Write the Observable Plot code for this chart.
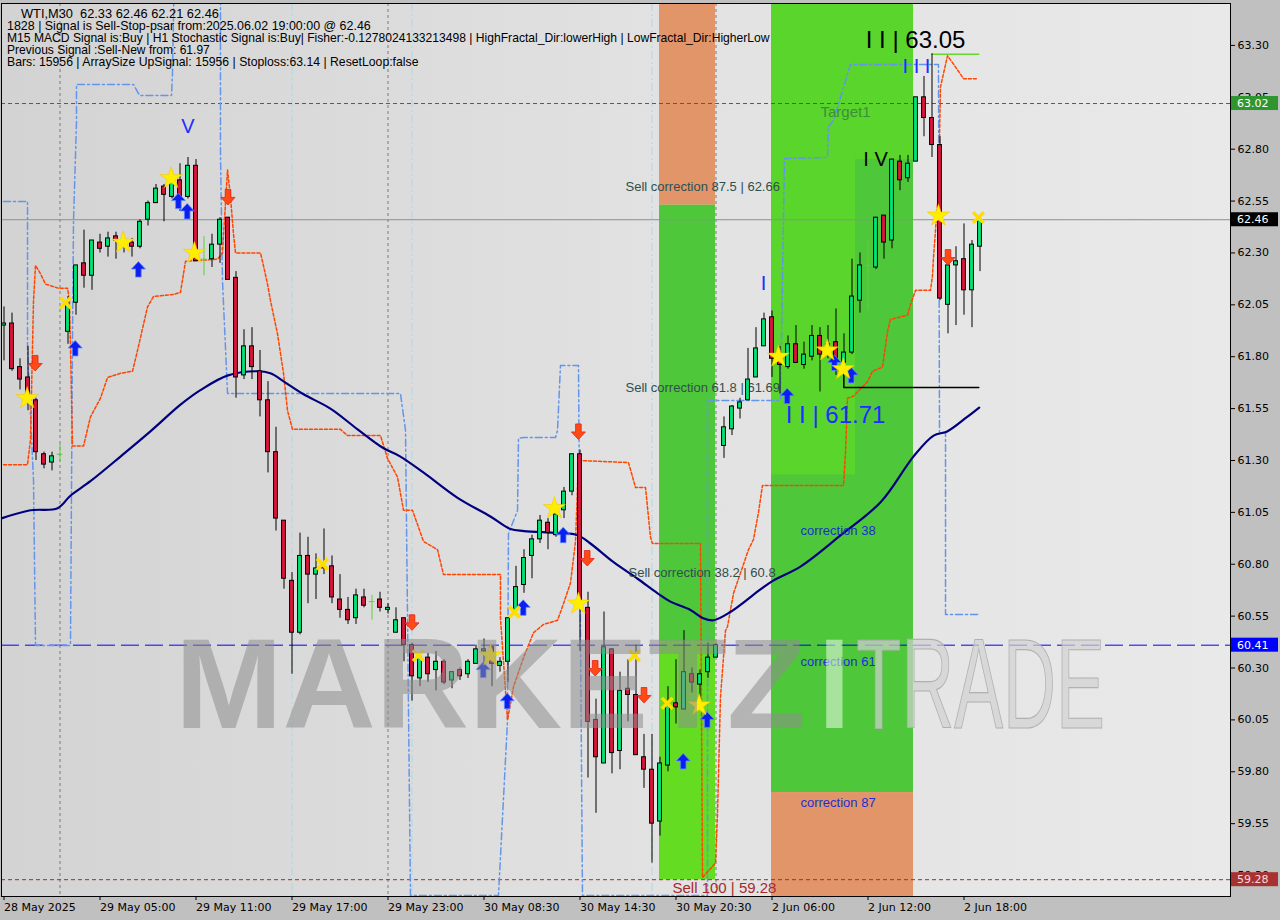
<!DOCTYPE html>
<html><head><meta charset="utf-8">
<script src="https://cdn.jsdelivr.net/npm/d3@7"></script>
<script src="https://cdn.jsdelivr.net/npm/@observablehq/plot@0.6"></script>
<style>
html,body{margin:0;padding:0;background:#c0c0c0;}
#chart svg{display:block;}
</style></head><body><div id="chart"></div>
<script>
// ---------- DATA ----------
const opens  = [61.95,61.96,61.75,61.70,61.59,61.33,61.29,61.33,61.92,62.06,62.25,62.19,62.35,62.33,62.38,62.35,62.35,62.33,62.46,62.54,62.62,62.57,62.65,62.57,62.72,62.27,62.27,62.34,62.47,62.18,61.71,61.85,61.73,61.59,61.34,61.01,60.72,60.47,60.84,60.75,60.79,60.79,60.63,60.58,60.54,60.64,60.62,60.63,60.58,60.47,60.54,60.41,60.25,60.35,60.29,60.33,60.24,60.29,60.27,60.32,60.38,60.40,60.31,60.33,60.58,60.70,60.84,60.92,61.00,60.94,61.06,61.15,61.33,60.59,60.05,59.84,60.39,59.90,60.20,60.17,59.87,59.81,59.56,59.83,60.13,60.10,60.27,60.22,60.28,60.35,61.37,61.45,61.55,61.59,61.70,61.85,61.99,61.80,61.75,61.86,61.76,61.80,61.90,61.86,61.87,61.77,61.82,62.07,62.24,62.23,62.48,62.36,62.74,62.66,62.74,63.05,62.95,62.82,62.05,62.24,62.27,62.12,62.33];
const highs  = [62.04,62.01,61.79,61.85,61.60,61.34,61.34,61.38,62.09,62.24,62.41,62.36,62.39,62.40,62.40,62.38,62.37,62.46,62.55,62.63,62.63,62.66,62.73,62.76,62.75,62.38,62.39,62.47,62.47,62.21,61.93,61.94,61.83,61.68,61.46,61.01,60.76,60.95,60.93,60.85,60.97,60.84,60.75,60.64,60.68,60.68,60.65,60.665,60.61,60.59,60.54,60.42,60.37,60.37,60.38,60.34,60.28,60.30,60.34,60.41,60.44,60.40,60.35,60.54,60.79,60.87,60.94,61.035,61.02,61.06,61.17,61.33,61.35,60.665,60.15,60.57,60.39,60.28,60.34,60.41,59.98,59.98,59.87,60.21,60.34,60.48,60.30,60.29,60.42,60.42,61.51,61.565,61.60,61.84,61.94,62.01,62.02,61.85,61.90,61.95,61.87,61.95,61.94,61.95,62.03,61.91,62.27,62.30,62.36,62.47,62.48,62.75,62.77,62.77,63.05,63.15,63.26,62.86,62.25,62.33,62.44,62.36,62.46];
const lows   = [61.78,61.73,61.64,61.54,61.30,61.26,61.25,61.29,61.86,62.00,62.13,62.12,62.30,62.28,62.27,62.30,62.28,62.32,62.43,62.54,62.45,62.56,62.50,62.56,62.26,62.19,62.23,62.25,62.17,61.60,61.69,61.69,61.51,61.24,60.96,60.68,60.27,60.46,60.61,60.63,60.75,60.61,60.54,60.51,60.51,60.59,60.53,60.57,60.56,60.47,60.33,60.14,60.21,60.23,60.19,60.22,60.20,60.24,60.25,60.32,60.32,60.21,60.28,60.23,60.57,60.66,60.73,60.90,60.87,60.93,61.02,61.13,60.38,59.77,59.60,59.84,59.79,59.81,60.04,59.88,59.72,59.36,59.49,59.80,60.03,60.10,60.18,60.14,60.25,60.35,61.31,61.42,61.50,61.59,61.70,61.85,61.70,61.62,61.74,61.77,61.74,61.78,61.63,61.79,61.71,61.71,61.81,62.01,62.02,62.22,62.27,62.32,62.60,62.64,62.74,62.86,62.76,62.07,61.91,61.95,62.00,61.94,62.21];
const closes = [61.96,61.74,61.69,61.62,61.34,61.28,61.32,61.33,62.05,62.24,62.19,62.36,62.32,62.37,62.36,62.33,62.33,62.45,62.54,62.61,62.58,62.64,62.57,62.72,62.26,62.27,62.34,62.46,62.17,61.70,61.85,61.75,61.59,61.34,61.02,60.73,60.47,60.84,60.75,60.78,60.78,60.64,60.58,60.53,60.65,60.60,60.62,60.59,60.59,60.53,60.41,60.26,60.35,60.27,60.33,60.23,60.28,60.26,60.33,60.39,60.39,60.32,60.33,60.54,60.69,60.83,60.92,61.01,60.95,61.04,61.15,61.33,60.61,60.04,59.87,60.40,59.89,60.19,60.17,59.88,59.81,59.55,59.84,60.12,60.11,60.28,60.23,60.27,60.35,60.41,61.46,61.56,61.58,61.69,61.84,61.98,61.79,61.76,61.86,61.77,61.81,61.90,61.81,61.84,61.79,61.82,62.09,62.24,62.24,62.47,62.35,62.75,62.65,62.73,63.05,62.95,62.82,62.08,62.24,62.26,62.12,62.34,62.46];

const timeTickBars = [0,12,24,36,48,60,72,84,96,108,120];
const timeLabels = ["28 May 2025","29 May 05:00","29 May 11:00","29 May 17:00","29 May 23:00","30 May 08:30","30 May 14:30","30 May 20:30","2 Jun 06:00","2 Jun 12:00","2 Jun 18:00"];
const priceTicks = [63.30,63.05,62.80,62.55,62.30,62.05,61.80,61.55,61.30,61.05,60.80,60.55,60.30,60.05,59.80,59.55,59.30];

// moving average (bar, price)
const maLine = [[-0.4,61.02],[3.3,61.06],[6.7,61.07],[8.3,61.13],[10.8,61.20],[14.6,61.32],[18.3,61.44],[22.1,61.57],[24.6,61.64],[28,61.71],[31.7,61.73],[33.3,61.72],[35,61.68],[37.4,61.62],[40.8,61.55],[44.2,61.45],[47.4,61.36],[49.5,61.32],[52.5,61.24],[56.7,61.12],[60.8,61.03],[63.3,60.97],[65,60.96],[69.2,60.95],[71.7,60.94],[73.3,60.90],[76.2,60.81],[79.2,60.73],[81.7,60.66],[83.3,60.62],[85.8,60.58],[87.4,60.54],[88.7,60.53],[90.8,60.57],[94.6,60.68],[96.1,60.72],[99.6,60.79],[104.6,60.94],[109.6,61.10],[113.7,61.32],[116.2,61.42],[117.9,61.44],[120.4,61.51],[121.9,61.555]];

// trailing stop (orange dashed)
const trailLine = [[-0.06,61.28],[2.94,61.28],[3.31,61.40],[3.69,62.07],[3.94,62.24],[4.56,62.20],[5.19,62.15],[6.81,62.13],[7.94,62.13],[8.19,62.07],[8.56,61.37],[9.94,61.37],[10.81,61.51],[12.06,61.60],[12.94,61.70],[14.56,61.72],[16.06,61.73],[16.69,61.83],[17.94,62.04],[18.69,62.09],[21.19,62.10],[22.06,62.11],[22.69,62.26],[26.69,62.27],[27.31,62.30],[27.94,62.70],[28.31,62.57],[28.69,62.39],[28.94,62.30],[32.06,62.30],[32.31,62.26],[32.94,62.15],[33.31,62.07],[34.19,61.91],[34.94,61.72],[35.44,61.54],[36.06,61.45],[42.06,61.45],[42.94,61.42],[47.06,61.42],[47.94,61.31],[49.19,61.22],[49.94,61.06],[51.06,61.06],[52.44,60.91],[54.19,60.87],[54.94,60.75],[62.06,60.75],[62.06,60.54],[62.94,60.05],[63.69,60.21],[64.94,60.35],[66.19,60.47],[67.44,60.51],[69.19,60.53],[69.94,60.61],[70.81,60.71],[71.19,60.83],[71.44,60.91],[71.81,61.30],[78.06,61.29],[78.94,61.17],[80.19,61.17],[80.81,60.93],[81.06,60.90],[87.06,60.90],[87.31,59.29],[88.94,59.36],[89.19,59.60],[89.56,60.16],[90.19,60.48],[90.44,60.50],[91.19,60.66],[93.06,60.87],[93.69,60.92],[94.31,61.05],[94.81,61.18],[104.94,61.18],[105.19,61.34],[105.44,61.60],[106.19,61.61],[107.94,61.68],[108.56,61.73],[109.81,61.75],[110.44,61.92],[110.81,61.98],[112.94,62.00],[113.31,62.05],[113.94,62.12],[115.81,62.12],[116.06,62.19],[116.19,62.28],[116.81,62.60],[117.06,63.10],[117.94,63.25],[118.69,63.21],[119.94,63.14],[121.69,63.14]];

// fractal channel (blue dash-dot)
const fractalLine = [[-0.06,62.548],[2.94,62.548],[2.94,61.83],[3.69,61.204],[3.94,60.409],[8.31,60.409],[8.56,61.878],[8.69,62.457],[9.06,62.929],[9.06,63.112],[16.19,63.112],[16.94,63.059],[20.94,63.059],[21.06,63.165],[21.31,63.7],[27.06,63.7],[27.06,62.78],[27.31,62.167],[27.94,61.623],[49.56,61.623],[50.19,61.445],[50.81,59.204],[61.81,59.204],[62.94,60.047],[63.06,60.948],[64.19,61.059],[64.31,61.406],[64.94,61.411],[68.94,61.411],[69.19,61.445],[69.56,61.758],[71.81,61.758],[72.31,59.204],[87.94,59.204],[87.94,61.589],[97.06,61.589],[97.56,62.755],[102.94,62.76],[103.06,62.91],[103.69,62.939],[105.81,63.208],[116.81,63.208],[116.94,61.435],[117.69,61.435],[117.69,60.558],[121.81,60.558]];

const levelLine = [[104.98,61.75],[104.98,61.652],[121.85,61.652]];
const stopLine = [[116.0,63.258],[121.85,63.258]];

const sepGray = [7, 48, 89];
const sepCyan = [36, 51, 81];

const zones = [
  {b1:81.94, b2:88.94, p1:62.53, p2:63.7, kind:"sell"},
  {b1:81.94, b2:88.94, p1:59.28, p2:62.53, kind:"buy"},
  {b1:81.94, b2:88.94, p1:59.28, p2:60.43, kind:"buyHi"},
  {b1:95.94, b2:113.69, p1:59.70, p2:63.7, kind:"buy"},
  {b1:95.94, b2:106.44, p1:61.23, p2:63.7, kind:"buyLt"},
  {b1:106.44, b2:113.69, p1:62.75, p2:63.7, kind:"buyLt"},
  {b1:95.94, b2:113.69, p1:59.0, p2:59.70, kind:"sell"}
];

const starPts  = [[2.9,61.60],[14.9,62.35],[20.9,62.66],[23.8,62.30],[60.8,60.36],[68.8,61.07],[71.8,60.61],[86.9,60.12],[96.8,61.80],[102.9,61.83],[104.9,61.74],[116.8,62.48]];
const crossPts = [[7.7,62.06],[39.8,60.80],[51.8,60.36],[63.8,60.57],[78.8,60.36],[82.9,60.13],[121.8,62.47]];
const upPts    = [[8.9,61.84],[16.8,62.22],[21.8,62.55],[22.9,62.50],[59.9,60.29],[62.9,60.14],[64.9,60.59],[69.9,60.94],[84.9,59.85],[87.9,60.05],[97.9,61.61],[103.8,61.77],[105.9,61.71]];
const downPts  = [[3.9,61.77],[28.0,62.57],[51.0,60.52],[71.8,61.44],[72.9,60.83],[73.9,60.30],[80.0,60.17],[118.0,62.28]];

const waveBlue  = [{t:"V", b:23.0, p:62.91}, {t:"I", b:94.94, p:62.153}, {t:"I I I", b:114.06, p:63.199}];
const waveBlack = [{t:"I V", b:108.94, p:62.751}];
const bigBlue   = [{t:"I I | 61.71", b:103.94, p:61.517}];
const bigBlack  = [{t:"I I | 63.05", b:113.94, p:63.324}];
const sellCorr  = [{t:"Sell correction 87.5 | 62.66", b:77.69, p:62.62},{t:"Sell correction 61.8 | 61.69", b:77.69, p:61.652},{t:"Sell correction 38.2 | 60.8", b:78.06, p:60.76}];
const buyCorr   = [{t:"correction 38", b:99.56, p:60.963},{t:"correction 61", b:99.56, p:60.331},{t:"correction 87", b:99.56, p:59.652}];
const sellTarget = [{t:"Sell 100 | 59.28", b:83.56, p:59.237}];
const targetLbl = [{t:"Target1", b:102.06, p:62.977}];

const currentPrice = 62.46, buyLevel = 60.41, target1 = 63.02, sell100 = 59.28;
const priceBoxes = [{v:63.02, kind:"target"},{v:62.46, kind:"price"},{v:60.41, kind:"buy"},{v:59.28, kind:"sell"}];

const watermark = [{t:"MARKETZ", b1:21.44, b2:100.3, p:60.01, kind:"dark"},{t:"I", b1:101.9, b2:105.8, p:60.01, kind:"white"},{t:"TRADE", b1:106.6, b2:137.7, p:60.01, kind:"light"}];

const infoLines = [
  "WTI,M30  62.33 62.46 62.21 62.46",
  "1828 | Signal is Sell-Stop-psar from:2025.06.02 19:00:00 @ 62.46",
  "M15 MACD Signal is:Buy | H1 Stochastic Signal is:Buy| Fisher:-0.1278024133213498 | HighFractal_Dir:lowerHigh | LowFractal_Dir:HigherLow",
  "Previous Signal :Sell-New from: 61.97",
  "Bars: 15956 | ArraySize UpSignal: 15956 | Stoploss:63.14 | ResetLoop:false"
];

// ---------- STYLE ----------
const zoneFill = {sell:"#e3956a", buy:"#4fc73b", buyHi:"#63dc22", buyLt:"#5ad52b"};
const boxFill = {target:"#2f962f", price:"#000000", buy:"#0000ff", sell:"#a83232"};

const candles = opens.map((o,i)=>({i, o, h:highs[i], l:lows[i], c:closes[i]}));
const bodies = candles.filter(d => d.o !== d.c);
const dojis = candles.filter(d => d.o === d.c);

const upArrow = {draw(ctx){ctx.moveTo(0,-8);ctx.lineTo(7,-0.5);ctx.lineTo(2.8,-0.5);ctx.lineTo(2.8,7.5);ctx.lineTo(-2.8,7.5);ctx.lineTo(-2.8,-0.5);ctx.lineTo(-7,-0.5);ctx.closePath();}};
const downArrow = {draw(ctx){ctx.moveTo(0,8);ctx.lineTo(7,0.5);ctx.lineTo(2.8,0.5);ctx.lineTo(2.8,-7.5);ctx.lineTo(-2.8,-7.5);ctx.lineTo(-2.8,0.5);ctx.lineTo(-7,0.5);ctx.closePath();}};

const X = d => d[0], Y = d => d[1];
const SANS = "Liberation Sans, Arial, sans-serif";

const chart = Plot.plot({
  width: 1280, height: 920,
  marginLeft: 1, marginRight: 50, marginTop: 3, marginBottom: 24,
  x: {domain: [-0.3125, 153.3125], axis: null},
  y: {domain: [59.199, 63.502], axis: null},
  style: {background: "#c0c0c0", fontFamily: "DejaVu Sans, sans-serif", fontSize: "11px", color: "#000"},
  marks: [
    Plot.frame({fill: "url(#bgGrad)"}),
    Plot.ruleX(sepGray, {stroke: "#7a7a7a", strokeDasharray: "3,3"}),
    Plot.ruleX(sepCyan, {stroke: "#a9d8e6", strokeDasharray: "8,3,2,3"}),
    Plot.rect(zones, {x1: "b1", x2: "b2", y1: "p1", y2: "p2", fill: d => zoneFill[d.kind], clip: true, ariaLabel: "zones"}),
    Plot.ruleY([currentPrice], {stroke: "#8a8f96"}),
    Plot.ruleY([buyLevel], {stroke: "#0000ff", strokeDasharray: "18,6"}),
    Plot.ruleY([target1], {stroke: "#2a7a2a", strokeDasharray: "4,3"}),
    Plot.ruleY([sell100], {stroke: "#a52a2a", strokeDasharray: "4,3"}),
    Plot.line(fractalLine, {x: X, y: Y, stroke: "#6495ed", strokeDasharray: "7,3,2,3", clip: true}),
    Plot.line(trailLine, {x: X, y: Y, stroke: "#ff4500", strokeDasharray: "3,2", clip: true}),
    Plot.line(maLine, {x: X, y: Y, stroke: "#00007f", strokeWidth: 2.2, curve: "catmull-rom", clip: true}),
    Plot.line(levelLine, {x: X, y: Y, stroke: "#000"}),
    Plot.line(stopLine, {x: X, y: Y, stroke: "#66d633", strokeWidth: 1.5}),
    Plot.text(sellCorr, {x: "b", y: "p", text: "t", textAnchor: "start", fill: "#2f4f4f", fontSize: 13, fontFamily: SANS}),
    Plot.text(buyCorr, {x: "b", y: "p", text: "t", textAnchor: "start", fill: "#1c2fd6", fontSize: 13, fontFamily: SANS}),
    Plot.text(sellTarget, {x: "b", y: "p", text: "t", textAnchor: "start", fill: "#a52a2a", fontSize: 15, fontFamily: SANS}),
    Plot.text(targetLbl, {x: "b", y: "p", text: "t", textAnchor: "start", fill: "#3a8f3a", fontSize: 15, fontFamily: SANS}),
    Plot.ruleX(bodies, {x: "i", y1: "l", y2: "h", stroke: "#000"}),
    Plot.ruleX(dojis, {x: "i", y1: "l", y2: "h", stroke: "#5fcf3f"}),
    Plot.ruleY(dojis, {y: "o", x1: d => d.i - 0.35, x2: d => d.i + 0.35, stroke: "#5fcf3f"}),
    Plot.rect(bodies, {x1: d => d.i - 0.24, x2: d => d.i + 0.24, y1: "o", y2: "c", fill: d => d.c > d.o ? "#00e676" : "#dc143c", stroke: "#000", strokeWidth: 1}),
    Plot.text(waveBlue, {x: "b", y: "p", text: "t", fill: "#1a2fff", fontSize: 20, fontFamily: SANS}),
    Plot.text(waveBlack, {x: "b", y: "p", text: "t", fill: "#000", fontSize: 20, fontFamily: SANS}),
    Plot.text(bigBlue, {x: "b", y: "p", text: "t", fill: "#1a2fff", fontSize: 24, fontFamily: SANS}),
    Plot.text(bigBlack, {x: "b", y: "p", text: "t", fill: "#000", fontSize: 24, fontFamily: SANS}),
    Plot.dot(upPts, {x: X, y: Y, symbol: upArrow, fill: "#0a1ff0", stroke: "#5f86ff", strokeWidth: 0.8}),
    Plot.dot(downPts, {x: X, y: Y, symbol: downArrow, fill: "#ff4a14", stroke: "#e8201a", strokeWidth: 0.8}),
    Plot.dot(starPts, {x: X, y: Y, symbol: "star", r: 7, fill: "#ffee00", stroke: "#f0c000", strokeWidth: 0.5}),
    Plot.dot(crossPts, {x: X, y: Y, symbol: "times", r: 5, stroke: "#ffdd00", strokeWidth: 3.5}),
    Plot.frame({stroke: "#000"}),
    Plot.axisY({anchor: "right", ticks: priceTicks, tickFormat: d => d.toFixed(2), tickSize: 4, tickPadding: 3, fontSize: 11}),
    Plot.axisX({anchor: "bottom", ticks: timeTickBars, tickFormat: d => timeLabels[timeTickBars.indexOf(d)], tickSize: 4, tickPadding: 3, textAnchor: "start", fontSize: 11})
  ]
});

document.getElementById("chart").appendChild(chart);

// ---------- decorations ----------
const svg = d3.select(chart);
const xs = chart.scale("x"), ys = chart.scale("y");
const defs = svg.insert("defs", ":first-child");
const grad = defs.append("linearGradient").attr("id", "bgGrad").attr("x1", "0").attr("x2", "1").attr("y1", "0").attr("y2", "0");
grad.append("stop").attr("offset", "0%").attr("stop-color", "#d3d3d3");
grad.append("stop").attr("offset", "55%").attr("stop-color", "#e2e2e2");
grad.append("stop").attr("offset", "100%").attr("stop-color", "#e9e9e9");

// fit a text element horizontally into a given pixel width (scaling, so its box matches)
function fitText(sel, x, y, width) {
  const natural = sel.node().getComputedTextLength() || width;
  sel.attr("x", 0).attr("y", 0).attr("transform", `translate(${x},${y}) scale(${width / natural},1)`);
}

// watermark above zones, below lines
let zonesNode = chart.querySelector('[aria-label="zones"]');
while (zonesNode && zonesNode.parentNode !== chart) zonesNode = zonesNode.parentNode;
const wm = document.createElementNS("http://www.w3.org/2000/svg", "g");
if (zonesNode) chart.insertBefore(wm, zonesNode.nextSibling); else chart.appendChild(wm);
d3.select(wm).attr("text-anchor", "start");
const wmStyle = {
  dark: {fill: "#8e8e8e", op: 0.55, stroke: "none", weight: "bold"},
  white: {fill: "#ffffff", op: 0.5, stroke: "none", weight: "bold"},
  light: {fill: "#d2d2d2", op: 0.7, stroke: "#b0b0b0", weight: "normal"}
};
watermark.forEach(w => {
  const s = wmStyle[w.kind];
  const t = d3.select(wm).append("text")
    .attr("font-family", SANS).attr("font-size", 128).attr("font-weight", s.weight)
    .attr("fill", s.fill).attr("fill-opacity", s.op).attr("stroke", s.stroke).attr("stroke-width", 1.2)
    .text(w.t);
  fitText(t, xs.apply(w.b1), ys.apply(w.p), xs.apply(w.b2) - xs.apply(w.b1));
});

// info text
const infoG = svg.append("g").attr("font-family", SANS).attr("font-size", 12).attr("fill", "#000").attr("text-anchor", "start");
const infoX = [21, 7, 7, 7, 7], infoBase = [17.5, 30, 42, 54, 66], infoW = [198, 364, 763, 203, 412];
infoLines.forEach((t, k) => {
  const el = infoG.append("text").text(t);
  fitText(el, infoX[k], infoBase[k], infoW[k]);
});

// price boxes on the right scale
const boxG = svg.append("g").attr("font-family", "DejaVu Sans, sans-serif").attr("font-size", 11).attr("text-anchor", "start");
priceBoxes.forEach(b => {
  const yy = ys.apply(b.v);
  boxG.append("rect").attr("x", 1231).attr("y", yy - 7).attr("width", 47).attr("height", 14).attr("fill", boxFill[b.kind]);
  boxG.append("text").attr("x", 1237).attr("y", yy + 4).attr("fill", b.kind === "sell" ? "#f3dede" : "#ffffff").text(b.v.toFixed(2));
});
</script>
</body></html>
